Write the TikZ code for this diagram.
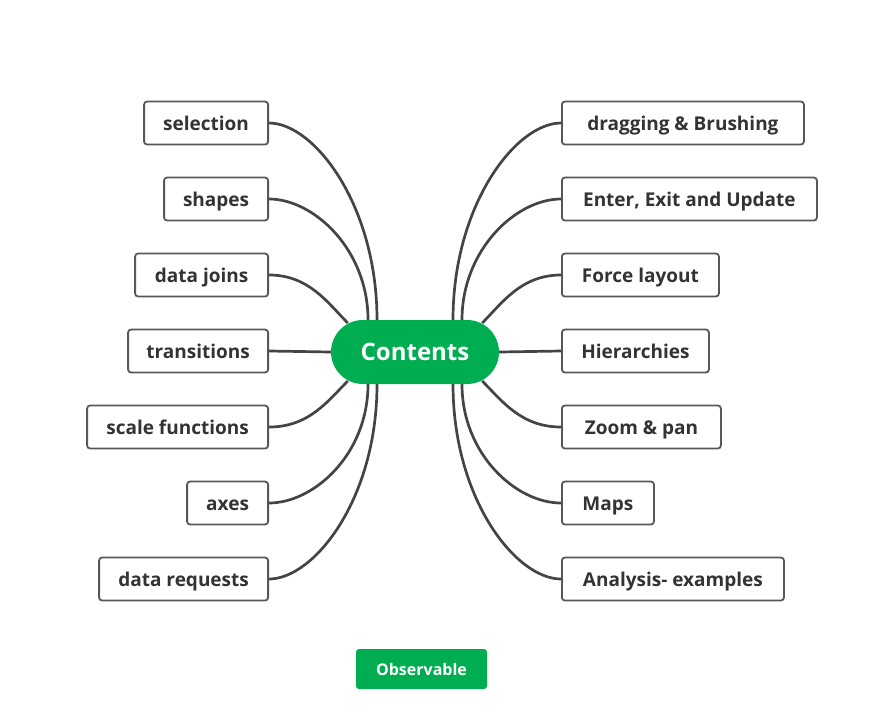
\documentclass[tikz,border=0pt]{standalone}
\usepackage{fontspec}
\setmainfont{Open Sans}
\usetikzlibrary{calc,backgrounds}
\definecolor{mmgreen}{HTML}{00AD50}
\definecolor{mmline}{HTML}{444444}
\definecolor{mmtext}{HTML}{333333}
\tikzset{
  topic/.style={draw=mmline!90, line width=1.8pt, rounded corners=3pt, minimum height=43pt, inner sep=0pt, text height=17pt, text depth=3pt, fill=white, text=mmtext, font=\fontsize{19}{22}\selectfont\bfseries},
  ltopic/.style={topic, anchor=east},
  rtopic/.style={topic, anchor=west},
  link/.style={draw=mmline, line width=2.7pt},
  badge/.style={fill=mmgreen, text=white, inner sep=0pt}}
\begin{document}
\begin{tikzpicture}[x=1pt, y=-1pt]
  \useasboundingbox (0,0) rectangle (878,716);
  % central topic
  \node[badge, rounded corners=32pt, minimum width=168pt, minimum height=64pt, font=\fontsize{24}{28}\selectfont\bfseries] (contents) at (415,352) {Contents};
  % left branch
  \node[ltopic, minimum width=124pt] (selection) at (269,123) {selection};
  \node[ltopic, minimum width=104pt] (shapes) at (269,199) {shapes};
  \node[ltopic, minimum width=133pt] (datajoins) at (269,275) {data joins};
  \node[ltopic, minimum width=140pt] (transitions) at (269,351) {transitions};
  \node[ltopic, minimum width=181pt] (scalefn) at (269,427) {scale functions};
  \node[ltopic, minimum width=81pt] (axes) at (269,503) {axes};
  \node[ltopic, minimum width=169pt] (datareq) at (269,579) {data requests};
  % right branch
  \node[rtopic, minimum width=242pt] (dragging) at (561,123) {dragging \& Brushing};
  \node[rtopic, minimum width=255pt] (enterexit) at (561,199) {Enter, Exit and Update};
  \node[rtopic, minimum width=157pt] (force) at (561,275) {Force layout};
  \node[rtopic, minimum width=147pt] (hierarchies) at (561,351) {Hierarchies};
  \node[rtopic, minimum width=159pt] (zoompan) at (561,427) {Zoom \& pan};
  \node[rtopic, minimum width=92pt] (maps) at (561,503) {Maps};
  \node[rtopic, minimum width=222pt] (analysis) at (561,579) {Analysis- examples};
  % button
  \node[badge, rounded corners=3pt, minimum width=131pt, minimum height=40pt, font=\fontsize{16}{18}\selectfont\bfseries] (observable) at (421.5,669) {Observable};
  % end points on the central topic
  \coordinate (cl1) at ($(contents.north)+(-38,0)$);
  \coordinate (cl2) at ($(contents.north)+(-47,0)$);
  \coordinate (cl3) at ($(contents.west)+(17,-29)$);
  \coordinate (cl5) at ($(contents.west)+(17,29)$);
  \coordinate (cl6) at ($(contents.south)+(-47,0)$);
  \coordinate (cl7) at ($(contents.south)+(-38,0)$);
  \coordinate (cr1) at ($(contents.north)+(38,0)$);
  \coordinate (cr2) at ($(contents.north)+(47,0)$);
  \coordinate (cr3) at ($(contents.east)+(-17,-29)$);
  \coordinate (cr5) at ($(contents.east)+(-17,29)$);
  \coordinate (cr6) at ($(contents.south)+(47,0)$);
  \coordinate (cr7) at ($(contents.south)+(38,0)$);
  \begin{scope}[on background layer]
    \draw[link] (selection.east) .. controls +(45,0) and +(0,-115) .. (cl1);
    \draw[link] (shapes.east) .. controls +(45,0) and +(0,-70) .. (cl2);
    \draw[link] (datajoins.east) .. controls +(40,0) and +(-20,-20) .. (cl3);
    \draw[link] (transitions.east) -- (contents.west);
    \draw[link] (scalefn.east) .. controls +(40,0) and +(-20,20) .. (cl5);
    \draw[link] (axes.east) .. controls +(45,0) and +(0,70) .. (cl6);
    \draw[link] (datareq.east) .. controls +(45,0) and +(0,115) .. (cl7);
    \draw[link] (dragging.west) .. controls +(-45,0) and +(0,-115) .. (cr1);
    \draw[link] (enterexit.west) .. controls +(-45,0) and +(0,-70) .. (cr2);
    \draw[link] (force.west) .. controls +(-40,0) and +(20,-20) .. (cr3);
    \draw[link] (hierarchies.west) -- (contents.east);
    \draw[link] (zoompan.west) .. controls +(-40,0) and +(20,20) .. (cr5);
    \draw[link] (maps.west) .. controls +(-45,0) and +(0,70) .. (cr6);
    \draw[link] (analysis.west) .. controls +(-45,0) and +(0,115) .. (cr7);
  \end{scope}
\end{tikzpicture}
\end{document}
